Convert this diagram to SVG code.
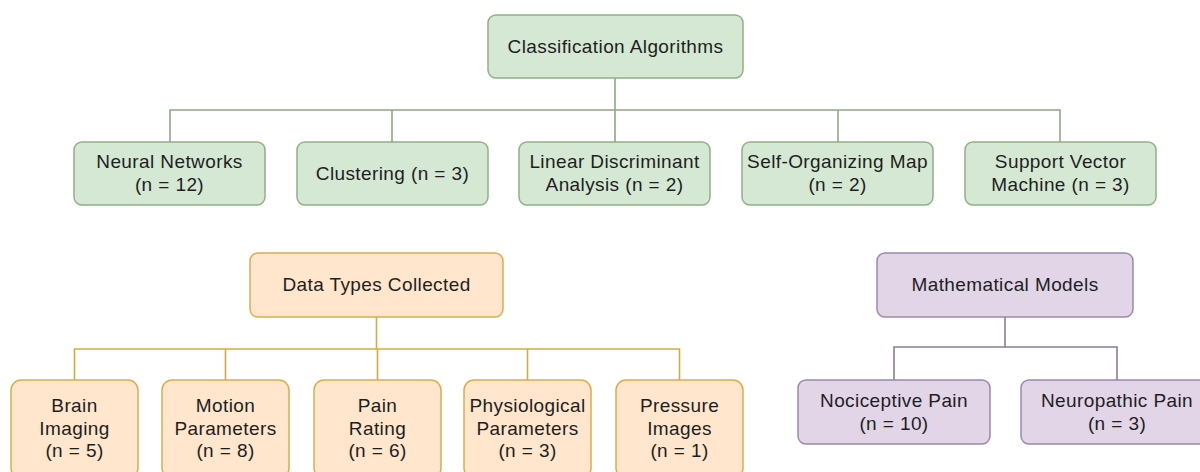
<svg xmlns="http://www.w3.org/2000/svg" width="1200" height="472" viewBox="0 0 1200 472">
<style>
text{font-family:"Liberation Sans",Arial,sans-serif;font-size:19px;letter-spacing:0.4px;fill:#1e1e1e;text-anchor:middle}
.g rect{fill:#d5e8d4;stroke:#8fb183;stroke-width:1.5}
.o rect{fill:#ffe6cc;stroke:#dcad4c;stroke-width:1.5}
.p rect{fill:#e1d5e7;stroke:#9b89a8;stroke-width:1.5}
.cg{stroke:#8ea886;stroke-width:1.6;fill:none}
.co{stroke:#d6aa40;stroke-width:1.6;fill:none}
.cp{stroke:#8c7c98;stroke-width:1.6;fill:none}
</style>
<rect width="1200" height="472" fill="#fff"/>
<g id="connectors">
<path class="cg" d="M615 78V110M170 142V110H1060V142M392 110V142M615 110V142M838 110V142"/>
<path class="co" d="M376.5 317V349M74.5 380V349H679.5V380M225.5 349V380M377.5 349V380M527.5 349V380"/>
<path class="cp" d="M1005 317V347M894 380V347H1117V380"/>
</g>
<g id="classification" class="g"><rect x="488" y="15" width="255" height="63" rx="8"/><text x="615.5" y="53">Classification Algorithms</text></g>
<g id="neural" class="g"><rect x="74" y="142" width="191" height="63" rx="8"/><text x="169.5" y="168">Neural Networks</text><text x="169.5" y="191">(n = 12)</text></g>
<g id="clustering" class="g"><rect x="297" y="142" width="191" height="63" rx="8"/><text x="392.5" y="180">Clustering (n = 3)</text></g>
<g id="lda" class="g"><rect x="519" y="142" width="191" height="63" rx="8"/><text x="614.5" y="168">Linear Discriminant</text><text x="614.5" y="191">Analysis (n = 2)</text></g>
<g id="som" class="g"><rect x="742" y="142" width="191" height="63" rx="8"/><text x="837.5" y="168">Self-Organizing Map</text><text x="837.5" y="191">(n = 2)</text></g>
<g id="svm" class="g"><rect x="965" y="142" width="191" height="63" rx="8"/><text x="1060.5" y="168">Support Vector</text><text x="1060.5" y="191">Machine (n = 3)</text></g>
<g id="datatypes" class="o"><rect x="250" y="253" width="253" height="64" rx="8"/><text x="376.5" y="291">Data Types Collected</text></g>
<g id="brain" class="o"><rect x="11" y="380" width="127" height="98" rx="10"/><text x="74.5" y="412">Brain</text><text x="74.5" y="434.5">Imaging</text><text x="74.5" y="457">(n = 5)</text></g>
<g id="motion" class="o"><rect x="162" y="380" width="127" height="98" rx="10"/><text x="225.5" y="412">Motion</text><text x="225.5" y="434.5">Parameters</text><text x="225.5" y="457">(n = 8)</text></g>
<g id="painrating" class="o"><rect x="314" y="380" width="127" height="98" rx="10"/><text x="377.5" y="412">Pain</text><text x="377.5" y="434.5">Rating</text><text x="377.5" y="457">(n = 6)</text></g>
<g id="physio" class="o"><rect x="464" y="380" width="127" height="98" rx="10"/><text x="527.5" y="412">Physiological</text><text x="527.5" y="434.5">Parameters</text><text x="527.5" y="457">(n = 3)</text></g>
<g id="pressure" class="o"><rect x="616" y="380" width="127" height="98" rx="10"/><text x="679.5" y="412">Pressure</text><text x="679.5" y="434.5">Images</text><text x="679.5" y="457">(n = 1)</text></g>
<g id="mathmodels" class="p"><rect x="877" y="253" width="256" height="64" rx="8"/><text x="1005" y="291">Mathematical Models</text></g>
<g id="nociceptive" class="p"><rect x="798" y="380" width="192" height="64" rx="8"/><text x="894" y="406.5">Nociceptive Pain</text><text x="894" y="429.5">(n = 10)</text></g>
<g id="neuropathic" class="p"><rect x="1021" y="380" width="200" height="64" rx="8"/><text x="1117" y="406.5">Neuropathic Pain</text><text x="1117" y="429.5">(n = 3)</text></g>
</svg>
